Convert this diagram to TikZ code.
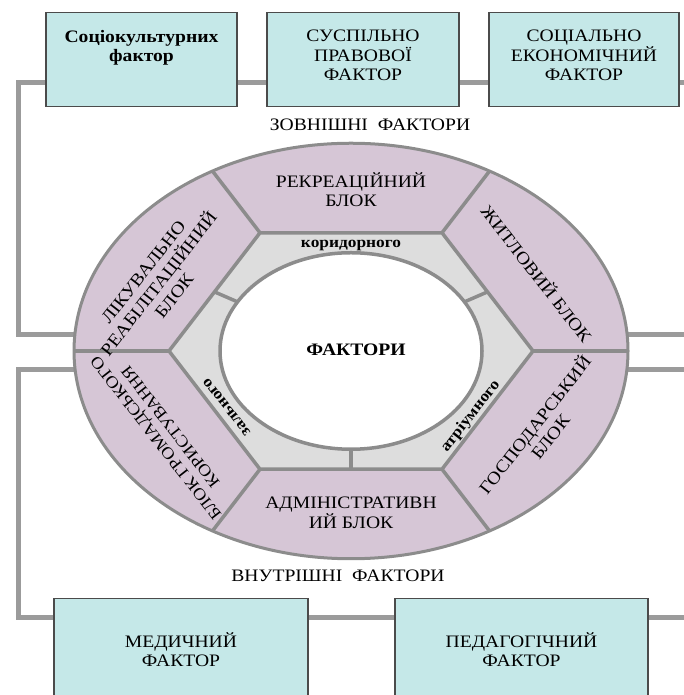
\documentclass[tikz,border=0pt]{standalone}
\usepackage{fontspec}
\setmainfont{Liberation Serif}[FakeStretch=1.12]
\usetikzlibrary{positioning}

\definecolor{boxfill}{RGB}{197,232,232}
\definecolor{boxedge}{RGB}{75,75,75}
\definecolor{linkgray}{RGB}{155,155,155}
\definecolor{ringfill}{RGB}{214,198,214}
\definecolor{bandfill}{RGB}{221,221,221}
\definecolor{ringgray}{RGB}{140,140,140}

\newcommand{\capfont}{\fontsize{17.5}{19.5}\selectfont}
\newcommand{\bandfont}{\fontsize{15.5}{17}\selectfont\bfseries}

\begin{document}
\begin{tikzpicture}[x=1pt, y=1pt,
    link/.style={draw=linkgray, line width=5pt},
    factor/.style={draw=boxedge, line width=1.2pt, fill=boxfill, anchor=north, inner sep=0pt},
    factortext/.style={align=center, font=\capfont, inner sep=0pt},
    seg/.style={align=center, font=\capfont, inner sep=0pt},
    band/.style={font=\bandfont, inner sep=0pt},
    ringline/.style={draw=ringgray, line width=3.5pt}]
    \clip (0,0) rectangle (684,695);

    % frame end points
    \coordinate (topL) at (18,612);
    \coordinate (topR) at (690,612);
    \coordinate (botL) at (18,77);
    \coordinate (botR) at (690,77);
    \coordinate (ringW1) at (76,360);
    \coordinate (ringW2) at (76,325);
    \coordinate (ringE1) at (626,360);
    \coordinate (ringE2) at (626,325);
    \coordinate (edgeE1) at (690,360);
    \coordinate (edgeE2) at (690,325);

    % frame lines
    \draw[link] (ringW1) -| (topL) -- (topR);
    \draw[link] (ringW2) -| (botL) -- (botR);
    \draw[link] (ringE1) -- (edgeE1);
    \draw[link] (ringE2) -- (edgeE2);

    % ring of blocks
    \begin{scope}[shift={(351,344)}, yscale=0.75]
        \fill[ringfill] (0,0) circle (277);
        \draw[ringgray, line width=3pt] (0,0) circle (277);
        \draw[ringline, fill=bandfill] (0:182) -- (60:182) -- (120:182) -- (180:182)
            -- (240:182) -- (300:182) -- cycle;
        \draw[ringline, fill=white] (0,0) circle (131);
        \foreach \a in {0,60,...,300}
            \draw[ringline] (\a:182) -- (\a:277);
        \foreach \a in {30,150,270}
            \draw[ringline] (\a:131) -- (\a:158);

        \node[seg] (rekr) at (90:215) {РЕКРЕАЦІЙНИЙ\\БЛОК};
        \node[seg, rotate=-52] (zhytl) at (29:213) {ЖИТЛОВИЙ БЛОК};
        \node[seg, rotate=52] (hosp) at (-29:218) {ГОСПОДАРСЬКИЙ\\БЛОК};
        \node[seg] (admin) at (270:216) {АДМІНІСТРАТИВН\\ИЙ БЛОК};
        \node[seg, rotate=128, font=\fontsize{16.5}{18.5}\selectfont] (hromad) at (210:217) {БЛОК ГРОМАДСЬКОГО\\КОРИСТУВАННЯ};
        \node[seg, rotate=52] (likuv) at (155:212) {ЛІКУВАЛЬНО\\РЕАБІЛІТАЦІЙНИЙ\\БЛОК};

        \node[band] (korydor) at (90:141) {коридорного};
        \node[band, rotate=128] (zaln) at (211:145) {зального};
        \node[band, rotate=52] (atrium) at (-36:148) {атріумного};
        \node[font=\capfont\bfseries] (centre) at (5,2) {ФАКТОРИ};
    \end{scope}

    % external factors
    \node[factor, minimum width=191pt, minimum height=94pt] (soc) at (141.5,683) {};
    \node[factortext, below=18pt of soc.north] (soct) {\bfseries Соціокультурних\\\bfseries фактор};
    \node[factor, minimum width=192pt, minimum height=94pt] (prav) at (363,683) {};
    \node[factortext, below=18pt of prav.north] (pravt) {СУСПІЛЬНО\\ПРАВОВОЇ\\ФАКТОР};
    \node[factor, minimum width=190pt, minimum height=94pt] (econ) at (584,683) {};
    \node[factortext, below=18pt of econ.north] (econt) {СОЦІАЛЬНО\\ЕКОНОМІЧНИЙ\\ФАКТОР};
    \node[font=\capfont] (zovn) at (370,570) {ЗОВНІШНІ\ \ ФАКТОРИ};

    % internal factors
    \node[font=\capfont] (vnutr) at (338,119) {ВНУТРІШНІ\ \ ФАКТОРИ};
    \node[factor, minimum width=254pt, minimum height=130pt] (med) at (181,97) {};
    \node[factortext, below=34pt of med.north] (medt) {МЕДИЧНИЙ\\ФАКТОР};
    \node[factor, minimum width=253pt, minimum height=130pt] (ped) at (521.5,97) {};
    \node[factortext, below=34pt of ped.north] (pedt) {ПЕДАГОГІЧНИЙ\\ФАКТОР};
\end{tikzpicture}
\end{document}
